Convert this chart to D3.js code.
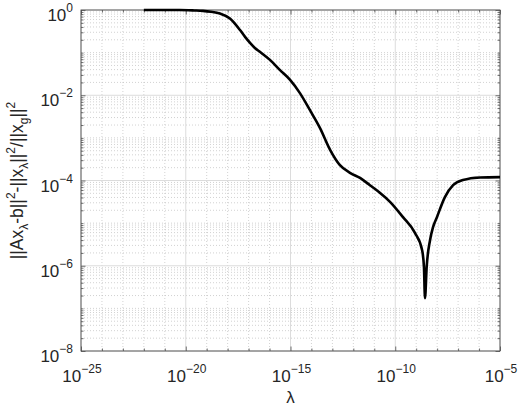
<!DOCTYPE html>
<html>
<head>
<meta charset="utf-8">
<script src="https://cdn.jsdelivr.net/npm/d3@7"></script>
<style>
  body { margin: 0; background: #fff; }
  svg { display: block; font-family: "Liberation Sans", Arial, Helvetica, sans-serif; }
</style>
</head>
<body>
<script>
// curve, stored as log10 values
const logLambda = [-22.0, -20.3, -19.6, -19.18, -18.8, -18.37, -17.89, -17.41, -17.17, -16.93,
  -16.70, -16.46, -15.98, -15.50, -15.02, -14.55, -14.07, -13.59, -13.11, -12.64,
  -12.16, -11.68, -11.21, -10.75, -10.25, -9.63, -9.06, -8.72, -8.63, -8.58,
  -8.50, -8.34, -8.20, -8.01, -7.63, -7.24, -6.77, -5.95, -5.0];
const logRatio = [0, 0, -0.01, -0.02, -0.04, -0.08, -0.20, -0.47, -0.63, -0.77,
  -0.89, -0.98, -1.17, -1.41, -1.64, -1.95, -2.35, -2.77, -3.28, -3.64,
  -3.82, -3.94, -4.11, -4.28, -4.50, -4.86, -5.23, -5.63, -6.03, -6.76,
  -6.03, -5.40, -5.10, -4.86, -4.39, -4.11, -3.99, -3.93, -3.92];

const xExp = [-25, -20, -15, -10, -5];
const yExp = [0, -2, -4, -6, -8];

const W = 520, H = 407;
const plot = {left: 81, right: 500, top: 10, bottom: 351};

const x = d3.scaleLog().domain([1e-25, 1e-5]).range([plot.left, plot.right]);
const y = d3.scaleLog().domain([1e-8, 1]).range([plot.bottom, plot.top]);

const data = logLambda.map((d, i) => ({lam: Math.pow(10, d), val: Math.pow(10, logRatio[i])}));

const svg = d3.select("body").append("svg")
    .attr("width", W)
    .attr("height", H);

// tick positions
const xMajor = xExp.map(e => Math.pow(10, e));
const xMinor = d3.range(-24, -5).filter(e => e % 5 !== 0).map(e => Math.pow(10, e));
const yMajor = yExp.map(e => Math.pow(10, e));
let yMinor = [];
for (let e = -8; e < 0; e++) {
    for (let m = 1; m < 10; m++) {
        if (m === 1 && e % 2 === 0) continue;
        yMinor.push(m * Math.pow(10, e));
    }
}

// grid
let grid = svg.append("g").attr("class", "grid");
grid.selectAll(".xminor").data(xMinor).enter().append("line")
    .attr("x1", d => x(d)).attr("x2", d => x(d))
    .attr("y1", plot.top).attr("y2", plot.bottom)
    .attr("stroke", "#b4b4b4").attr("stroke-width", 0.6)
    .attr("stroke-dasharray", "1,2");
grid.selectAll(".yminor").data(yMinor).enter().append("line")
    .attr("x1", plot.left).attr("x2", plot.right)
    .attr("y1", d => y(d)).attr("y2", d => y(d))
    .attr("stroke", "#b4b4b4").attr("stroke-width", 0.6)
    .attr("stroke-dasharray", "1,2");
grid.selectAll(".xmajor").data(xMajor).enter().append("line")
    .attr("x1", d => x(d)).attr("x2", d => x(d))
    .attr("y1", plot.top).attr("y2", plot.bottom)
    .attr("stroke", "#dcdcdc").attr("stroke-width", 1);
grid.selectAll(".ymajor").data(yMajor).enter().append("line")
    .attr("x1", plot.left).attr("x2", plot.right)
    .attr("y1", d => y(d)).attr("y2", d => y(d))
    .attr("stroke", "#dcdcdc").attr("stroke-width", 1);

// ticks on all four sides, pointing inward
const axisColor = "#4d4d4d";
let addTicks = (axis, tx, ty, vals, size) => {
    let g = svg.append("g")
        .attr("transform", "translate(" + tx + "," + ty + ")")
        .call(axis.tickValues(vals).tickSizeInner(-size).tickSizeOuter(0).tickFormat(""));
    g.select(".domain").remove();
    g.selectAll("line").attr("stroke", axisColor).attr("stroke-width", 0.8);
};
addTicks(d3.axisBottom(x), 0, plot.bottom, xMajor, 4.5);
addTicks(d3.axisBottom(x), 0, plot.bottom, xMinor, 2.5);
addTicks(d3.axisTop(x), 0, plot.top, xMajor, 4.5);
addTicks(d3.axisTop(x), 0, plot.top, xMinor, 2.5);
addTicks(d3.axisLeft(y), plot.left, 0, yMajor, 4.5);
addTicks(d3.axisLeft(y), plot.left, 0, yMinor, 2.5);
addTicks(d3.axisRight(y), plot.right, 0, yMajor, 4.5);
addTicks(d3.axisRight(y), plot.right, 0, yMinor, 2.5);

// box
svg.append("rect")
    .attr("x", plot.left).attr("y", plot.top)
    .attr("width", plot.right - plot.left).attr("height", plot.bottom - plot.top)
    .attr("fill", "none").attr("stroke", axisColor).attr("stroke-width", 0.9);

// curve
let line = d3.line()
    .x(d => x(d.lam))
    .y(d => y(d.val))
    .curve(d3.curveMonotoneX);

svg.append("path")
    .datum(data)
    .attr("d", line)
    .attr("fill", "none")
    .attr("stroke", "#000")
    .attr("stroke-width", 2.6)
    .attr("stroke-linejoin", "round");

// tick labels 10^n
let yLab = svg.append("g").selectAll("text")
    .data(yExp).enter().append("text")
    .attr("x", plot.left - 8)
    .attr("y", d => y(Math.pow(10, d)) + 11)
    .attr("text-anchor", "end")
    .attr("fill", "#262626")
    .style("font-size", "17px");
yLab.append("tspan").text("10");
yLab.append("tspan").attr("dy", -9).style("font-size", "12px")
    .text(d => d < 0 ? "\u2212" + (-d) : d);

let xLab = svg.append("g").selectAll("text")
    .data(xExp).enter().append("text")
    .attr("x", d => x(Math.pow(10, d)) + 1)
    .attr("y", plot.bottom + 31)
    .attr("text-anchor", "middle")
    .attr("fill", "#262626")
    .style("font-size", "17px");
xLab.append("tspan").text("10");
xLab.append("tspan").attr("dy", -9).style("font-size", "12px")
    .text(d => "\u2212" + (-d));

// axis labels
svg.append("text")
    .attr("x", (plot.left + plot.right) / 2)
    .attr("y", 403)
    .attr("text-anchor", "middle")
    .attr("fill", "#262626")
    .style("font-size", "17px")
    .text("\u03bb");

let yTitle = svg.append("text")
    .attr("transform", "translate(23," + ((plot.top + plot.bottom) / 2) + ") rotate(-90)")
    .attr("text-anchor", "middle")
    .attr("fill", "#262626")
    .style("font-size", "17.5px");

const titleParts = [
    ["||Ax", 0], ["\u03bb", 1], ["-b||", 0], ["2", -1], ["-||x", 0], ["\u03bb", 1],
    ["||", 0], ["2", -1], ["/||x", 0], ["g", 1], ["||", 0], ["2", -1]
];
let level = 0;
titleParts.forEach(p => {
    let shift = p[1] === 1 ? 5 : (p[1] === -1 ? -8 : 0);
    yTitle.append("tspan")
        .attr("dy", shift - level)
        .style("font-size", p[1] === 0 ? "17.5px" : "12px")
        .text(p[0]);
    level = shift;
});
</script>
</body>
</html>
